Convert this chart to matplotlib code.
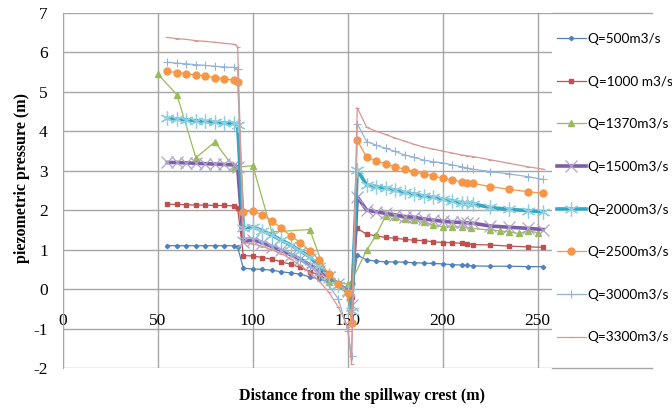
import matplotlib
matplotlib.use('Agg')
import matplotlib.pyplot as plt
from matplotlib.lines import Line2D

plt.rcParams['axes.unicode_minus'] = False

# distance along the spillway (m), shared by most series
x_main = [55, 60, 65, 70, 75, 80, 85, 90, 92,
          95, 100, 105, 110, 115, 120, 125, 130, 135, 140, 145, 150, 152,
          155, 160, 165, 170, 175, 180, 185, 190, 195, 200, 205, 210, 213, 216, 225, 235, 245, 253]

q500 = [1.1, 1.1, 1.1, 1.1, 1.1, 1.1, 1.1, 1.1, 1.06,
        0.53, 0.51, 0.5, 0.48, 0.44, 0.41, 0.38, 0.31, 0.25, 0.19, 0.13, 0.0, -0.15,
        0.86, 0.74, 0.71, 0.69, 0.69, 0.68, 0.67, 0.66, 0.65, 0.64, 0.62, 0.61, 0.6, 0.59, 0.58, 0.58, 0.57, 0.57]
q1000 = [2.15, 2.15, 2.14, 2.13, 2.13, 2.12, 2.12, 2.11, 2.05,
         0.85, 0.84, 0.8, 0.76, 0.69, 0.63, 0.55, 0.44, 0.36, 0.21, 0.13, 0.02, -0.2,
         1.54, 1.39, 1.35, 1.31, 1.29, 1.26, 1.24, 1.23, 1.2, 1.18, 1.18, 1.16, 1.15, 1.13, 1.12, 1.09, 1.07, 1.06]
q1500 = [3.21, 3.21, 3.2, 3.19, 3.18, 3.17, 3.16, 3.15, 3.1,
         1.2, 1.25, 1.18, 1.08, 0.98, 0.87, 0.76, 0.62, 0.47, 0.3, 0.13, -0.05, -0.4,
         2.34, 2.0, 1.96, 1.92, 1.88, 1.84, 1.82, 1.78, 1.75, 1.72, 1.7, 1.69, 1.68, 1.67, 1.6, 1.57, 1.54, 1.51]
q2000 = [4.33, 4.31, 4.29, 4.27, 4.25, 4.23, 4.21, 4.2, 4.15,
         1.55, 1.58, 1.48, 1.37, 1.24, 1.12, 0.97, 0.82, 0.58, 0.36, 0.1, -0.08, -0.55,
         3.02, 2.64, 2.6, 2.56, 2.51, 2.45, 2.41, 2.36, 2.33, 2.28, 2.24, 2.19, 2.18, 2.16, 2.07, 2.02, 1.99, 1.96]
q2500 = [5.52, 5.49, 5.46, 5.43, 5.4, 5.36, 5.33, 5.3, 5.25,
         1.96, 1.99, 1.88, 1.73, 1.54, 1.35, 1.18, 0.97, 0.74, 0.38, 0.13, -0.1, -0.87,
         3.77, 3.34, 3.26, 3.17, 3.1, 3.04, 2.98, 2.92, 2.87, 2.81, 2.77, 2.72, 2.7, 2.68, 2.6, 2.53, 2.47, 2.43]
q3000 = [5.75, 5.73, 5.71, 5.69, 5.67, 5.65, 5.63, 5.62, 5.57,
         1.3, 1.3, 1.22, 1.12, 1.02, 0.9, 0.75, 0.57, 0.36, 0.1, -0.25, -1.05, -1.7,
         4.19, 3.74, 3.65, 3.57, 3.49, 3.4, 3.34, 3.27, 3.23, 3.2, 3.15, 3.1, 3.07, 3.04, 2.98, 2.92, 2.85, 2.78]
q3300 = [6.38, 6.35, 6.33, 6.3, 6.28, 6.26, 6.23, 6.21, 6.15,
         1.18, 1.15, 1.08, 1.0, 0.9, 0.76, 0.6, 0.42, 0.2, -0.08, -0.45, -0.95, -1.9,
         4.6, 4.1, 4.0, 3.92, 3.83, 3.75, 3.67, 3.6, 3.55, 3.5, 3.45, 3.4, 3.38, 3.36, 3.28, 3.19, 3.1, 3.04]

# Q=1370 was measured at other stations
x_1370 = [50, 60, 70, 80, 90, 100, 110, 130, 140, 150, 152,
          160, 165, 170, 175, 180, 185, 190, 195, 200, 205, 210, 215,
          225, 230, 235, 240, 245, 250]
q1370 = [5.45, 4.93, 3.33, 3.73, 3.08, 3.13, 1.45, 1.51, 0.18, 0.13, 0.2,
         0.99, 1.37, 1.86, 1.84, 1.79, 1.75, 1.71, 1.62, 1.58, 1.58, 1.57, 1.54,
         1.5, 1.48, 1.45, 1.41, 1.48, 1.43]

labels = ['Q=500m3/s', 'Q=1000 m3/s', 'Q=1370m3/s', 'Q=1500m3/s',
          'Q=2000m3/s', 'Q=2500m3/s', 'Q=3000m3/s', 'Q=3300m3/s']


def main():
    fig = plt.figure(figsize=(6.72, 4.12), dpi=100)
    ax = fig.add_axes([63 / 672, 1 - 368 / 412, (552 - 63) / 672, (368 - 13) / 412])

    grid_c = '#a6a6a6'
    handles = []
    handles += ax.plot(x_main, q500, color='#4f81bd', lw=0.9, marker='D', ms=2.2)
    handles += ax.plot(x_main, q1000, color='#c0504d', lw=0.9, marker='s', ms=3.2)
    handles += ax.plot(x_1370, q1370, color='#9bbb59', lw=0.9, marker='^', ms=4.5)
    handles += ax.plot(x_main, q1500, color='#7b5ea7', lw=2.6, marker='x', ms=9,
                       mec='#b3a2c7', mew=0.9)
    handles += ax.plot(x_main, q2000, color='#35a7c2', lw=2.6, marker=(6, 2, 0), ms=10,
                       mec='#8fd0e0', mew=0.9)
    handles += ax.plot(x_main, q2500, color='#f79646', lw=0.9, marker='o', ms=5)
    handles += ax.plot(x_main, q3000, color='#95b3d7', lw=0.9, marker='+', ms=6, mew=0.8)
    handles += ax.plot(x_main, q3300, color='#d99694', lw=0.9, marker='_', ms=3, mew=0.8)

    ax.set_xlim(0, 257.6)
    ax.set_ylim(-2, 7)
    ax.set_xticks([0, 50, 100, 150, 200, 250])
    ax.set_yticks(range(-2, 8))
    ax.grid(True, color=grid_c, lw=1.0)
    ax.set_axisbelow(True)
    for s in ['top', 'right', 'bottom']:
        ax.spines[s].set_visible(False)
    ax.spines['left'].set_color(grid_c)
    ax.spines['bottom'].set_position(('data', 0))
    ax.tick_params(length=0)
    ax.tick_params(axis='x', pad=17)
    ax.tick_params(axis='y', pad=11)
    for t in ax.get_xticklabels() + ax.get_yticklabels():
        t.set_fontfamily('Liberation Serif')
        t.set_fontsize(12.5)

    fig.text(22 / 672, 1 - 178 / 412, 'piezometric pressure (m)', rotation=90, ha='center', va='center',
             fontfamily='Liberation Serif', fontweight='bold', fontsize=11.5)
    fig.text(362 / 672, 1 - 396 / 412, 'Distance from the spillway crest (m)', ha='center', va='center',
             fontfamily='Liberation Serif', fontweight='bold', fontsize=11.5)

    # frame lines that run across the legend area
    for yy in [13, 368]:
        fig.add_artist(Line2D([552 / 672, 652 / 672], [1 - yy / 412, 1 - yy / 412],
                              color=grid_c, lw=1.0, transform=fig.transFigure))

    fig.legend(handles, labels, loc='upper left', bbox_to_anchor=(557 / 672, 1 - 33 / 412),
               frameon=False, prop={'family': 'Lato', 'size': 9.8}, handlelength=2.1,
               handletextpad=0.15, labelspacing=2.25, borderaxespad=0, borderpad=0)

    fig.savefig('out.png', dpi=100)


if __name__ == '__main__':
    main()
